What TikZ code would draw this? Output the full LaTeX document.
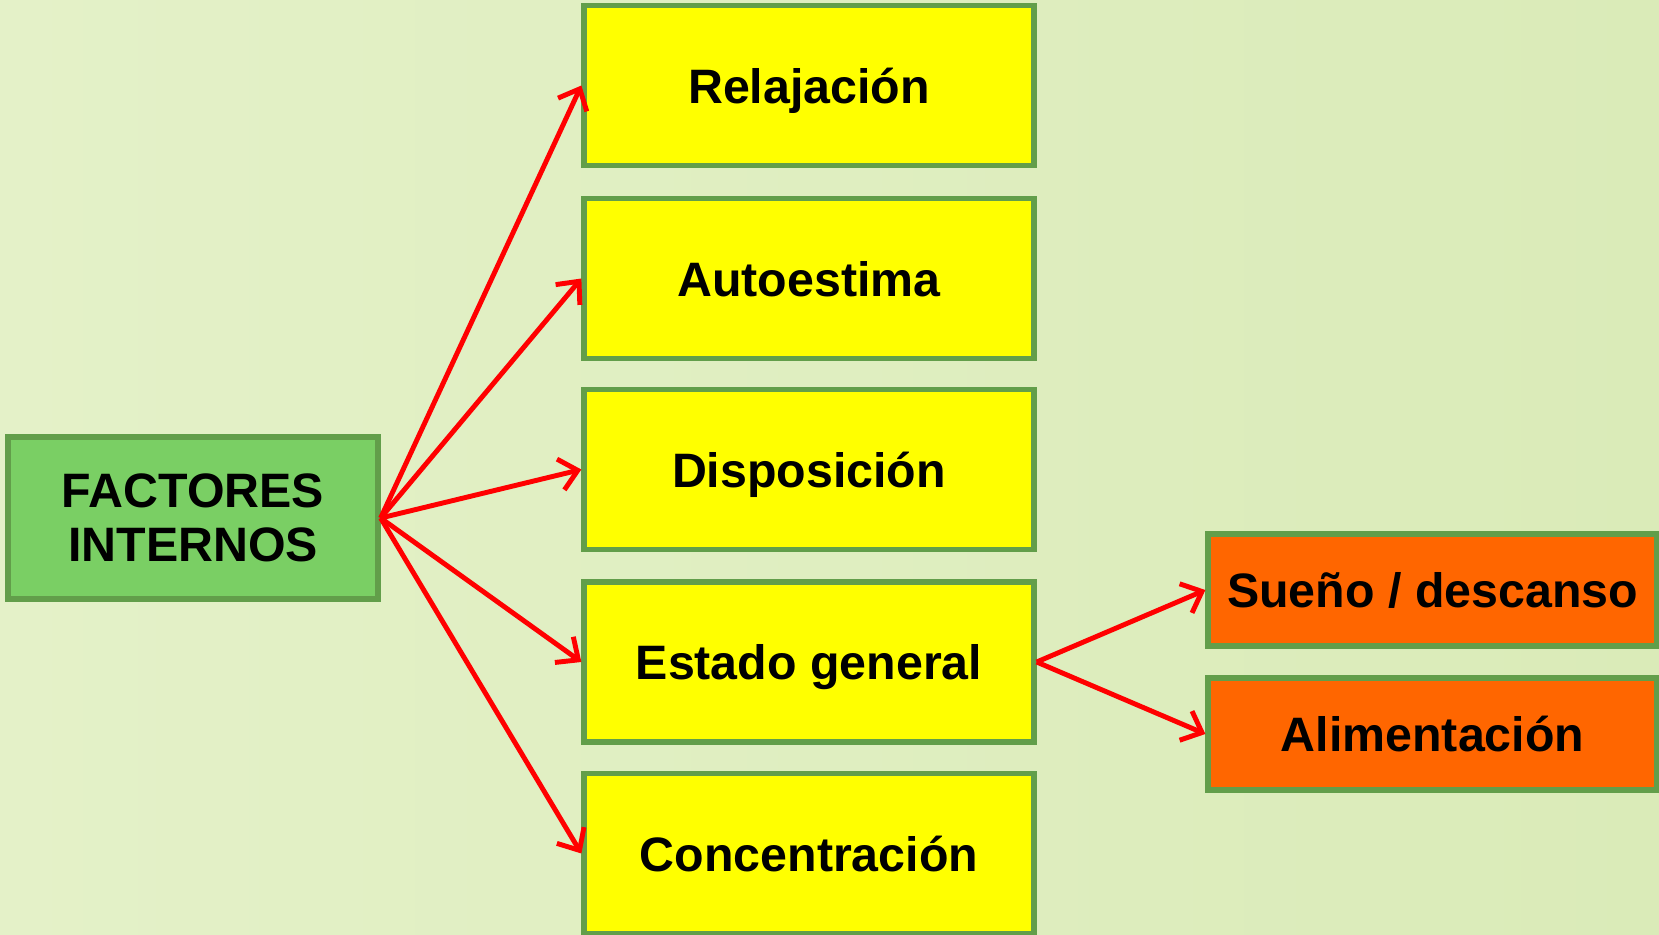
\documentclass[tikz,border=0pt]{standalone}
\usepackage{fontspec}
\setmainfont{Liberation Sans}
\usetikzlibrary{arrows.meta}
\definecolor{fondo}{RGB}{228,241,200}
\definecolor{fondob}{RGB}{218,235,184}
\definecolor{borde}{RGB}{98,158,74}
\definecolor{verde}{RGB}{122,207,100}
\definecolor{amarillo}{RGB}{255,255,0}
\definecolor{naranja}{RGB}{255,102,0}
\definecolor{rojo}{RGB}{255,0,0}
\tikzset{
  caja/.style={draw=borde, line width=3pt, font=\fontsize{27.5}{32}\selectfont\bfseries, align=center, inner sep=0pt},
  amarilla/.style={caja, fill=amarillo, minimum width=9cm, minimum height=3.2cm, text depth=0pt},
  roja/.style={caja, fill=naranja, minimum width=8.98cm, minimum height=2.24cm},
  flecha/.style={draw=rojo, line width=2.8pt, -{Straight Barb[length=10pt,width=18pt]}}
}

\begin{document}
\begin{tikzpicture}
   \shade [left color=fondo, right color=fondob] (0,0) rectangle (33.18,-18.68);
   \useasboundingbox (0,0) rectangle (33.18,-18.68);
   \node [caja, fill=verde, minimum width=7.4cm, minimum height=3.24cm] (factores) at (3.86,-10.36) {FACTORES\\[-1pt]INTERNOS};
   \node [amarilla] (relajacion) at (16.18,-1.71) {Relajación};
   \node [amarilla] (autoestima) at (16.18,-5.57) {Autoestima};
   \node [amarilla] (disposicion) at (16.18,-9.39) {Disposición};
   \node [amarilla] (estado) at (16.18,-13.24) {Estado general};
   \node [amarilla] (concentracion) at (16.18,-17.07) {Concentración};
   \node [roja] (sueno) at (28.65,-11.8) {Sueño / descanso};
   \node [roja] (alimentacion) at (28.65,-14.68) {Alimentación};
   \foreach \b in {relajacion,autoestima,disposicion,estado,concentracion}
     \draw [flecha] (factores.east) -- (\b.west);
   \draw [flecha] (estado.east) -- (sueno.west);
   \draw [flecha] (estado.east) -- (alimentacion.west);
\end{tikzpicture}
\end{document}
